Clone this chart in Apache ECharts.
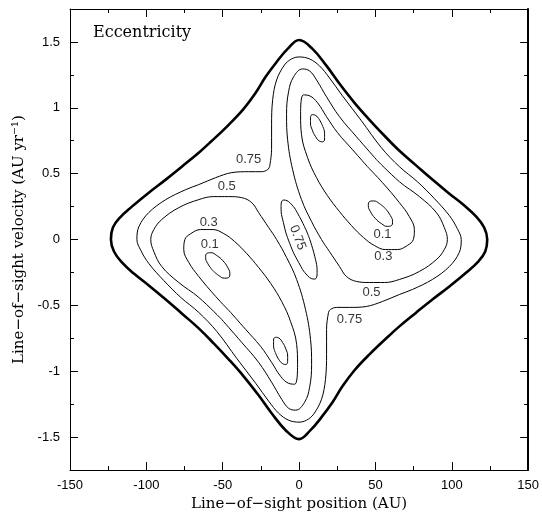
<!DOCTYPE html>
<html>
<head>
<meta charset="utf-8">
<script src="https://cdn.jsdelivr.net/npm/echarts@6.0.0/dist/echarts.min.js"></script>
<style>
html,body{margin:0;padding:0;background:#fff;}
#chart{width:542px;height:517px;}
</style>
</head>
<body>
<div id="chart"></div>
<script>
// ---- axis ticks ----
const xTickValues = [-150, -100, -50, 0, 50, 100, 150];
const yMajorTicks = [-1.5, -1, -0.5, 0, 0.5, 1, 1.5];

// ---- contour lines (x in AU, y in AU/yr) ----
const outerContour = [
  [55.9,0.788],[65.7,0.674],[76.8,0.561],[87.3,0.455],[98.4,0.348],[108.2,0.258],[116.0,0.174],[121.2,0.091],[123.2,0],[121.9,-0.091],[117.3,-0.167],[109.5,-0.25],[98.4,-0.356],[87.3,-0.455],[76.8,-0.553],[65.7,-0.659],[57.8,-0.742],[46.1,-0.871],[36.3,-0.992],[28.4,-1.114],[21.9,-1.235],[14.7,-1.348],[7.5,-1.447],[0,-1.515],
  [-8.8,-1.447],[-18.0,-1.318],[-26.5,-1.182],[-36.3,-1.038],[-46.1,-0.909],[-55.9,-0.788],[-65.7,-0.674],[-76.8,-0.561],[-87.3,-0.455],[-98.4,-0.348],[-108.2,-0.258],[-116.0,-0.174],[-121.2,-0.091],[-123.2,0],[-121.9,0.091],[-117.3,0.167],[-109.5,0.25],[-98.4,0.356],[-87.3,0.455],[-76.8,0.553],[-65.7,0.659],[-57.8,0.742],[-46.1,0.871],[-36.3,0.992],[-28.4,1.114],[-21.9,1.235],[-14.7,1.348],[-7.5,1.447],[0,1.515],
  [8.8,1.447],[18.0,1.318],[26.5,1.182],[36.3,1.038],[46.1,0.909],[55.9,0.788]
];

const contour075 = [
  [-19.3,0.553],[-18.0,0.682],[-18.0,0.871],[-17.3,1.061],[-14.7,1.212],[-9.5,1.326],[-4.9,1.371],[0,1.386],[6.9,1.371],[13.4,1.318],[19.9,1.227],[28.4,1.091],[40.8,0.902],[53.9,0.697],[65.7,0.553],[77.5,0.439],[88.6,0.311],[98.4,0.182],[103.6,0.083],[106.2,0],[104.9,-0.098],[98.4,-0.205],[87.3,-0.303],[74.2,-0.379],[65.7,-0.417],[54.6,-0.470],[44.1,-0.508],[33.0,-0.515],[24.5,-0.515],[20.6,-0.530],[19.3,-0.553],
  [18.0,-0.682],[18.0,-0.871],[17.3,-1.061],[14.7,-1.212],[9.5,-1.326],[4.9,-1.371],[0,-1.386],[-6.9,-1.371],[-13.4,-1.318],[-19.9,-1.227],[-28.4,-1.091],[-40.8,-0.902],[-53.9,-0.697],[-65.7,-0.553],[-77.5,-0.439],[-88.6,-0.311],[-98.4,-0.182],[-103.6,-0.083],[-106.2,0],[-104.9,0.098],[-98.4,0.205],[-87.3,0.303],[-74.2,0.379],[-65.7,0.417],[-54.6,0.470],[-44.1,0.508],[-33.0,0.515],[-24.5,0.515],[-20.6,0.530],[-19.3,0.553]
];

const contour075Center = [
  [6.1,0.03],[0.2,0.175],[-5.7,0.276],[-10.1,0.30],[-11.8,0.25],[-10.3,0.13],[-6.1,-0.03],[-0.2,-0.175],[5.7,-0.276],[10.1,-0.30],[11.8,-0.25],[10.3,-0.13],[6.1,0.03]
];

const contour05Upper = [
  [50.7,0.606],[65.7,0.439],[78.8,0.326],[89.9,0.205],[95.1,0.091],[97.1,0],[95.1,-0.076],[89.9,-0.152],[78.8,-0.242],[65.7,-0.303],[55.9,-0.326],[46.1,-0.326],[37.6,-0.318],[31.0,-0.280],[26.5,-0.205],[19.9,-0.091],[14.7,0],[8.2,0.136],[1.6,0.303],[-4.2,0.530],[-7.5,0.758],[-8.2,0.947],[-6.9,1.121],[-3.6,1.235],[2.3,1.295],[6.9,1.280],[11.4,1.212],[18.0,1.083],[26.5,0.932],[37.6,0.780],[50.7,0.606]
];
const contour05Lower = [
  [-50.7,-0.606],[-65.7,-0.439],[-78.8,-0.326],[-89.9,-0.205],[-95.1,-0.091],[-97.1,0],[-95.1,0.076],[-89.9,0.152],[-78.8,0.242],[-65.7,0.303],[-55.9,0.326],[-46.1,0.326],[-37.6,0.318],[-31.0,0.280],[-26.5,0.205],[-19.9,0.091],[-14.7,0],[-8.2,-0.136],[-1.6,-0.303],[4.2,-0.530],[7.5,-0.758],[8.2,-0.947],[6.9,-1.121],[3.6,-1.235],[-2.3,-1.295],[-6.9,-1.280],[-11.4,-1.212],[-18.0,-1.083],[-26.5,-0.932],[-37.6,-0.780],[-50.7,-0.606]
];

const contour03Upper = [
  [44.8,0.553],[54.6,0.432],[65.7,0.280],[72.2,0.174],[75.5,0.076],[74.8,0],[70.9,-0.045],[64.4,-0.076],[56.5,-0.076],[49.3,-0.045],[42.2,0.015],[34.3,0.106],[26.5,0.212],[18.6,0.333],[11.4,0.470],[5.6,0.621],[1.6,0.795],[1.0,0.947],[2.9,1.098],[6.9,1.091],[12.1,1.038],[18.0,0.932],[25.2,0.811],[35.0,0.682],[44.8,0.553]
];
const contour03Lower = [
  [-44.8,-0.553],[-54.6,-0.432],[-65.7,-0.280],[-72.2,-0.174],[-75.5,-0.076],[-74.8,0],[-70.9,0.045],[-64.4,0.076],[-56.5,0.076],[-49.3,0.045],[-42.2,-0.015],[-34.3,-0.106],[-26.5,-0.212],[-18.6,-0.333],[-11.4,-0.470],[-5.6,-0.621],[-1.6,-0.795],[-1.0,-0.947],[-2.9,-1.098],[-6.9,-1.091],[-12.1,-1.038],[-18.0,-0.932],[-25.2,-0.811],[-35.0,-0.682],[-44.8,-0.553]
];

const contour01Upper = [[15.49,0.859],[13.37,0.909],[10.90,0.941],[8.76,0.948],[7.50,0.927],[7.48,0.884],[8.69,0.830],[10.82,0.781],[13.28,0.748],[15.42,0.742],[16.68,0.763],[16.70,0.806],[15.49,0.859]];
const contour01Right = [[56.67,0.233],[52.61,0.273],[48.74,0.293],[46.08,0.288],[45.34,0.258],[46.73,0.212],[49.87,0.161],[53.92,0.121],[57.80,0.100],[60.46,0.106],[61.20,0.136],[59.80,0.182],[56.67,0.233]];
const contour01Lower = [[-15.49,-0.859],[-13.37,-0.909],[-10.90,-0.941],[-8.76,-0.948],[-7.50,-0.927],[-7.48,-0.884],[-8.69,-0.830],[-10.82,-0.781],[-13.28,-0.748],[-15.42,-0.742],[-16.68,-0.763],[-16.70,-0.806],[-15.49,-0.859]];
const contour01Left = [[-56.67,-0.233],[-52.61,-0.273],[-48.74,-0.293],[-46.08,-0.288],[-45.34,-0.258],[-46.73,-0.212],[-49.87,-0.161],[-53.92,-0.121],[-57.80,-0.100],[-60.46,-0.106],[-61.20,-0.136],[-59.80,-0.182],[-56.67,-0.233]];

// ---- contour labels ----
const labelTexts = ['0.1', '0.3', '0.5', '0.75', '0.1', '0.3', '0.5', '0.75', '0.75'];
const labelXs    = [54.6, 55.2, 47.4, 33.0, -58.5, -59.2, -47.4, -33.0, -1.0];
const labelYs    = [0.038, -0.129, -0.402, -0.606, -0.038, 0.129, 0.402, 0.606, 0.015];
const labelRotations = [0, 0, 0, 0, 0, 0, 0, 0, -69];

const SANS = '"Liberation Sans", Arial, Helvetica, sans-serif';
const SERIF = '"DejaVu Serif", serif';

function lineSeries(data, width, smooth) {
  return {
    type: 'line', data: data, xAxisIndex: 0, yAxisIndex: 0,
    showSymbol: false, symbol: 'none', smooth: smooth, silent: true,
    lineStyle: { color: '#000', width: width }
  };
}

const series = [
  lineSeries(outerContour, 2.6, 0.4),
  lineSeries(contour075, 1, 0.35),
  lineSeries(contour075Center, 1, 0.5),
  lineSeries(contour05Upper, 1, 0.4),
  lineSeries(contour05Lower, 1, 0.4),
  lineSeries(contour03Upper, 1, 0.4),
  lineSeries(contour03Lower, 1, 0.4),
  lineSeries(contour01Upper, 1, 0.5),
  lineSeries(contour01Right, 1, 0.5),
  lineSeries(contour01Lower, 1, 0.5),
  lineSeries(contour01Left, 1, 0.5)
];
series.push({
  type: 'scatter', xAxisIndex: 0, yAxisIndex: 0, symbolSize: 0, silent: true,
  data: labelTexts.map((t, i) => ({
    value: [labelXs[i], labelYs[i]], name: t,
    label: { rotate: labelRotations[i] }
  })),
  label: { show: true, position: 'inside', formatter: '{b}', fontFamily: SANS, fontSize: 13, color: '#000' }
});

const axisLineStyle = { color: '#000', width: 1 };
const tickStyle = { color: '#000', width: 1 };

const option = {
  animation: false,
  backgroundColor: '#fff',
  title: {
    text: 'Eccentricity', left: 93, top: 25, padding: 0,
    textStyle: { fontFamily: SERIF, fontSize: 16, fontWeight: 'normal', color: '#000' }
  },
  grid: { left: 70, right: 13, top: 9, bottom: 46, containLabel: false },
  xAxis: [
    {
      type: 'value', position: 'bottom', min: -150, max: 150, interval: 50,
      axisLine: { show: true, onZero: false, lineStyle: axisLineStyle },
      axisTick: { show: true, inside: true, length: 8, lineStyle: tickStyle, customValues: xTickValues },
      minorTick: { show: true, splitNumber: 2, length: 4, lineStyle: tickStyle },
      splitLine: { show: false }, minorSplitLine: { show: false },
      axisLabel: { show: true, customValues: xTickValues, margin: 9, fontFamily: SANS, fontSize: 13, color: '#000' },
      name: 'Line\u2212of\u2212sight position (AU)', nameLocation: 'middle', nameGap: 22,
      nameTextStyle: { fontFamily: SERIF, fontSize: 15, color: '#000' }
    },
    {
      type: 'value', position: 'top', min: -150, max: 150, interval: 50,
      axisLine: { show: true, onZero: false, lineStyle: axisLineStyle },
      axisTick: { show: true, inside: true, length: 8, lineStyle: tickStyle },
      minorTick: { show: true, splitNumber: 2, length: 4, lineStyle: tickStyle },
      splitLine: { show: false }, minorSplitLine: { show: false },
      axisLabel: { show: false }
    }
  ],
  yAxis: [
    {
      type: 'value', position: 'left', offset: 0, min: -1.75, max: 1.75, interval: 0.25,
      axisLine: { show: true, onZero: false, lineStyle: axisLineStyle },
      axisTick: { show: true, inside: true, length: 4, lineStyle: tickStyle },
      splitLine: { show: false }, axisLabel: { show: false }
    },
    {
      type: 'value', position: 'left', offset: 0, min: -1.75, max: 1.75,
      axisLine: { show: false, onZero: false },
      axisTick: { show: true, inside: true, length: 8, lineStyle: tickStyle, customValues: yMajorTicks },
      splitLine: { show: false },
      axisLabel: { show: true, customValues: yMajorTicks, margin: 10, fontFamily: SANS, fontSize: 13, color: '#000' },
      name: 'Line\u2212of\u2212sight velocity (AU yr\u207B\u00B9)', nameLocation: 'middle', nameGap: 36,
      nameTextStyle: { fontFamily: SERIF, fontSize: 15, color: '#000' }
    },
    {
      type: 'value', position: 'right', offset: 0, min: -1.75, max: 1.75, interval: 0.25,
      axisLine: { show: true, onZero: false, lineStyle: { color: '#000', width: 2 } },
      axisTick: { show: true, inside: true, length: 4, lineStyle: tickStyle },
      splitLine: { show: false }, axisLabel: { show: false }
    },
    {
      type: 'value', position: 'right', offset: 0, min: -1.75, max: 1.75,
      axisLine: { show: false, onZero: false },
      axisTick: { show: true, inside: true, length: 8, lineStyle: tickStyle, customValues: yMajorTicks },
      splitLine: { show: false }, axisLabel: { show: false }
    }
  ],
  series: series
};

const chart = echarts.init(document.getElementById('chart'), null, { renderer: 'canvas' });
chart.setOption(option);
</script>
</body>
</html>
